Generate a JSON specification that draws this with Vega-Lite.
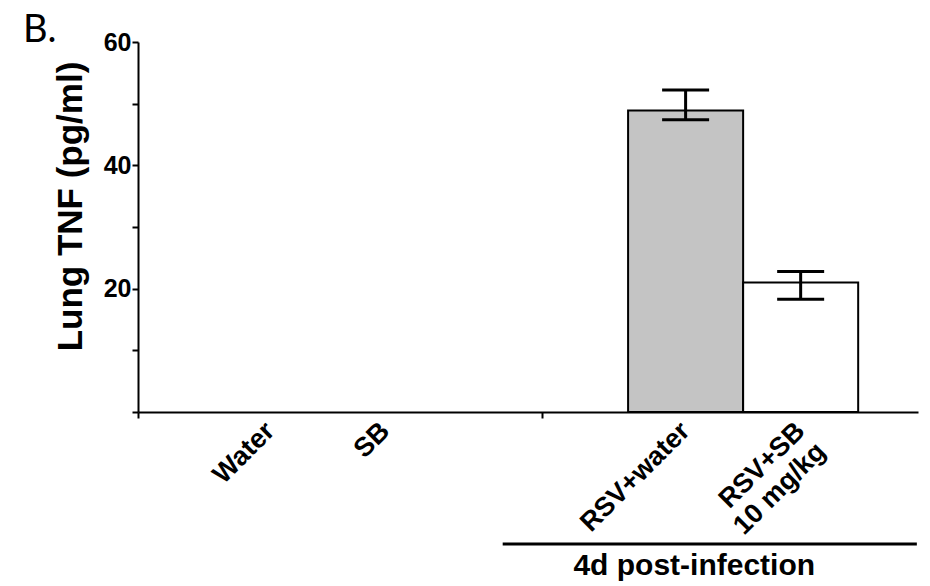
{
  "$schema": "https://vega.github.io/schema/vega-lite/v6.json",
  "width": 780,
  "height": 370,
  "autosize": {"type": "none"},
  "padding": {"left": 138, "top": 42, "right": 12, "bottom": 174},
  "background": "white",
  "title": {
    "text": "B.",
    "anchor": "start",
    "frame": "group",
    "dx": -115,
    "offset": -50,
    "baseline": "alphabetic",
    "font": "Lato",
    "fontSize": 38,
    "fontWeight": "normal",
    "color": "black"
  },
  "config": {
    "view": {"stroke": null},
    "font": "Liberation Sans"
  },
  "datasets": {
    "groups": [
      {"group": "Water", "pos": 1.15, "start": null, "end": null, "tnf": null, "lo": null, "hi": null},
      {"group": "SB", "pos": 2.15, "start": null, "end": null, "tnf": null, "lo": null, "hi": null},
      {"group": "RSV+water", "pos": 4.76, "start": 4.26, "end": 5.26, "tnf": 48.9, "lo": 47.4, "hi": 52.2},
      {"group": "RSV+SB\n10 mg/kg", "pos": 5.76, "start": 5.26, "end": 6.26, "tnf": 21.0, "lo": 18.3, "hi": 22.8}
    ],
    "bracket": [
      {"label": "4d post-infection", "from": 3.17, "to": 6.77, "mid": 4.835}
    ]
  },
  "layer": [
    {
      "data": {"name": "groups"},
      "transform": [{"filter": "datum.tnf != null"}],
      "mark": {"type": "bar", "stroke": "black", "strokeWidth": 2},
      "encoding": {
        "x": {
          "field": "start", "type": "quantitative",
          "scale": {"domain": [0, 6.78], "nice": false, "zero": false},
          "axis": {
            "values": [0, 3.51],
            "labels": false,
            "ticks": true,
            "tickSize": 6,
            "tickWidth": 2,
            "tickColor": "black",
            "domainColor": "black",
            "domainWidth": 2,
            "grid": false,
            "title": null
          }
        },
        "x2": {"field": "end"},
        "y": {
          "field": "tnf", "type": "quantitative",
          "scale": {"domain": [0, 60], "nice": false},
          "axis": {
            "values": [0, 10, 20, 30, 40, 50, 60],
            "labelExpr": "datum.value > 0 && datum.value % 20 === 0 ? datum.label : ''",
            "grid": false,
            "tickSize": 6,
            "tickWidth": 2,
            "tickColor": "black",
            "domainColor": "black",
            "domainWidth": 2,
            "labelFont": "Liberation Sans",
            "labelFontWeight": "bold",
            "labelFontSize": 25,
            "labelColor": "black",
            "labelPadding": 1,
            "title": "Lung TNF (pg/ml)",
            "titleFont": "Liberation Sans",
            "titleFontWeight": "bold",
            "titleFontSize": 35,
            "titleColor": "black",
            "titleAngle": -90,
            "titleAlign": "center",
            "titleBaseline": "middle",
            "titleX": -68,
            "titleY": 164
          }
        },
        "y2": {"datum": 0},
        "color": {
          "field": "group", "type": "nominal",
          "scale": {"domain": ["RSV+water", "RSV+SB\n10 mg/kg"], "range": ["#c4c4c4", "#ffffff"]},
          "legend": null
        }
      }
    },
    {
      "data": {"name": "groups"},
      "transform": [{"filter": "datum.tnf != null"}],
      "mark": {"type": "rule", "color": "black", "strokeWidth": 3},
      "encoding": {
        "x": {"field": "pos", "type": "quantitative"},
        "y": {"field": "lo", "type": "quantitative"},
        "y2": {"field": "hi"}
      }
    },
    {
      "data": {"name": "groups"},
      "transform": [{"filter": "datum.tnf != null"}],
      "mark": {"type": "tick", "color": "black", "orient": "horizontal", "size": 47, "thickness": 3, "opacity": 1},
      "encoding": {
        "x": {"field": "pos", "type": "quantitative"},
        "y": {"field": "lo", "type": "quantitative"}
      }
    },
    {
      "data": {"name": "groups"},
      "transform": [{"filter": "datum.tnf != null"}],
      "mark": {"type": "tick", "color": "black", "orient": "horizontal", "size": 47, "thickness": 3, "opacity": 1},
      "encoding": {
        "x": {"field": "pos", "type": "quantitative"},
        "y": {"field": "hi", "type": "quantitative"}
      }
    },
    {
      "data": {"name": "groups"},
      "mark": {
        "type": "text",
        "angle": 315,
        "align": "right",
        "baseline": "middle",
        "lineBreak": "\n",
        "lineHeight": 29,
        "font": "Liberation Sans",
        "fontWeight": "bold",
        "fontSize": 27,
        "color": "black",
        "yOffset": 15
      },
      "encoding": {
        "x": {"field": "pos", "type": "quantitative"},
        "y": {"datum": 0, "type": "quantitative"},
        "text": {"field": "group"}
      }
    },
    {
      "data": {"name": "bracket"},
      "mark": {"type": "rule", "color": "black", "strokeWidth": 3, "yOffset": 132},
      "encoding": {
        "x": {"field": "from", "type": "quantitative"},
        "x2": {"field": "to"},
        "y": {"datum": 0, "type": "quantitative"}
      }
    },
    {
      "data": {"name": "bracket"},
      "mark": {
        "type": "text",
        "align": "center",
        "baseline": "alphabetic",
        "font": "Liberation Sans",
        "fontWeight": "bold",
        "fontSize": 30,
        "color": "black",
        "yOffset": 163
      },
      "encoding": {
        "x": {"field": "mid", "type": "quantitative"},
        "y": {"datum": 0, "type": "quantitative"},
        "text": {"field": "label"}
      }
    }
  ]
}
